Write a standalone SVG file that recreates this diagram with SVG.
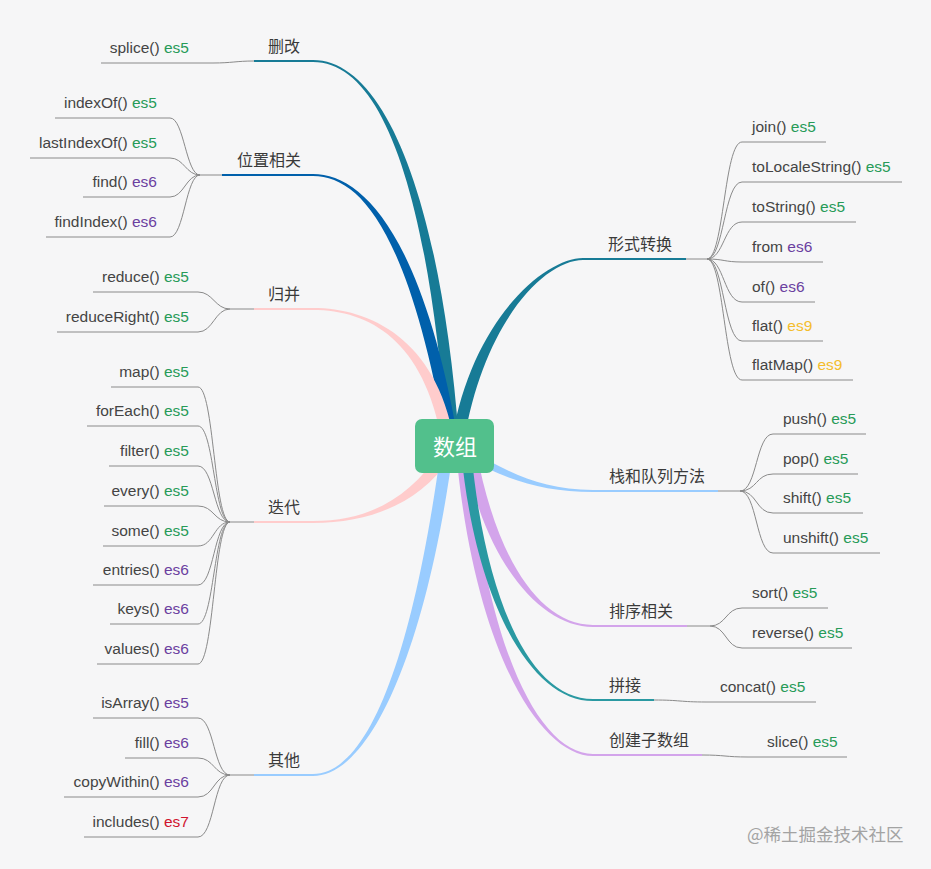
<svg xmlns="http://www.w3.org/2000/svg" width="931" height="869" viewBox="0 0 931 869">
<style>
.t{font-family:"Liberation Sans","Noto Sans CJK SC",sans-serif;font-size:15.5px;fill:#444}
.l{font-family:"Noto Sans CJK SC","Liberation Sans",sans-serif;font-size:16px;fill:#3a3a3a}
.e5{fill:#279b58}.e6{fill:#6b3fa0}.e7{fill:#d0132e}.e9{fill:#f4bd2c}
.u{stroke:#8a8a8a;stroke-width:1;fill:none}
.g{stroke:#8a8a8a;stroke-width:1;fill:none}
</style>
<rect x="0" y="0" width="931" height="869" fill="#f6f6f7"/>
<g id="connectors">
  <!-- main tapered branches -->
  <path d="M313,62 C385,62 429,200 447,440 L459,440 C441,200 385,60 313,60 Z" fill="#177b96"/>
  <line x1="254" y1="61" x2="314" y2="61" stroke="#177b96" stroke-width="2"/>
  <path d="M313,176 C360,176 409,231 446,441 L458,439 C421,229 360,174 313,174 Z" fill="#0060ab"/>
  <line x1="222" y1="175" x2="314" y2="175" stroke="#0060ab" stroke-width="2"/>
  <path d="M313,310 C370,310 424,341 442,441 L454,439 C436,339 370,308 313,308 Z" fill="#ffcccc"/>
  <line x1="254" y1="309" x2="314" y2="309" stroke="#ffcccc" stroke-width="2"/>
  <path d="M313,523 C370,523 420,503 450,458 L440,452 C410,497 370,521 313,521 Z" fill="#ffcccc"/>
  <line x1="254" y1="522" x2="314" y2="522" stroke="#ffcccc" stroke-width="2"/>
  <path d="M313,776 C370,776 426,651 453,451 L441,449 C414,649 370,774 313,774 Z" fill="#99ccff"/>
  <line x1="254" y1="775" x2="314" y2="775" stroke="#99ccff" stroke-width="2"/>
  <path d="M583,258 C545,258 472,319 452,439 L464,441 C484,321 545,260 583,260 Z" fill="#177b96"/>
  <line x1="582" y1="259" x2="686" y2="259" stroke="#177b96" stroke-width="2"/>
  <path d="M593,490 C540,490 507,471.5 467,448.5 L463,455.5 C503,478.5 540,492 593,492 Z" fill="#99ccff"/>
  <line x1="592" y1="491" x2="718" y2="491" stroke="#99ccff" stroke-width="2"/>
  <path d="M593,625 C540,625 496,559 476,449 L464,451 C484,561 540,627 593,627 Z" fill="#d3a4eb"/>
  <line x1="592" y1="626" x2="687" y2="626" stroke="#d3a4eb" stroke-width="2"/>
  <path d="M593,754 C540,754 486,650 468,449.5 L456,450.5 C474,650 540,756 593,756 Z" fill="#d3a4eb"/>
  <line x1="592" y1="755" x2="702" y2="755" stroke="#d3a4eb" stroke-width="2"/>
  <path d="M593,699 C530,699 485,600 471,449.5 L461,450.5 C475,600 530,701 593,701 Z" fill="#2a99a2"/>
  <line x1="592" y1="700" x2="654" y2="700" stroke="#2a99a2" stroke-width="2"/>

  <!-- 删改 -->
  <path class="g" d="M254,61 C236,61 232,63 213,63"/>
  <!-- 位置相关 -->
  <path class="g" d="M222,175 H200"/>
  <path class="g" d="M200,175 C186,175 184,118 170,118"/>
  <path class="g" d="M200,175 C186,175 184,158 170,158"/>
  <path class="g" d="M200,175 C186,175 184,197 170,197"/>
  <path class="g" d="M200,175 C186,175 184,237 170,237"/>
  <!-- 归并 -->
  <path class="g" d="M254,309 H230"/>
  <path class="g" d="M230,309 C215,309 213,292 198,292"/>
  <path class="g" d="M230,309 C215,309 213,332 198,332"/>
  <!-- 迭代 -->
  <path class="g" d="M254,522 H230"/>
  <path class="g" d="M230,522 C214,522 214,387 198,387"/>
  <path class="g" d="M230,522 C214,522 214,426 198,426"/>
  <path class="g" d="M230,522 C214,522 214,466 198,466"/>
  <path class="g" d="M230,522 C214,522 214,506 198,506"/>
  <path class="g" d="M230,522 C214,522 214,546 198,546"/>
  <path class="g" d="M230,522 C214,522 214,585 198,585"/>
  <path class="g" d="M230,522 C214,522 214,624 198,624"/>
  <path class="g" d="M230,522 C214,522 214,664 198,664"/>
  <!-- 其他 -->
  <path class="g" d="M254,775 H230"/>
  <path class="g" d="M230,775 C214,775 214,718 198,718"/>
  <path class="g" d="M230,775 C214,775 214,758 198,758"/>
  <path class="g" d="M230,775 C214,775 214,797 198,797"/>
  <path class="g" d="M230,775 C214,775 214,837 198,837"/>
  <!-- 形式转换 -->
  <path class="g" d="M686,259 H707"/>
  <path class="g" d="M707,259 C724,259 724,142 742,142"/>
  <path class="g" d="M707,259 C724,259 724,182 742,182"/>
  <path class="g" d="M707,259 C724,259 724,222 742,222"/>
  <path class="g" d="M707,259 C724,259 724,262 742,262"/>
  <path class="g" d="M707,259 C724,259 724,302 742,302"/>
  <path class="g" d="M707,259 C724,259 724,341 742,341"/>
  <path class="g" d="M707,259 C724,259 724,380 742,380"/>
  <!-- 栈和队列方法 -->
  <path class="g" d="M718,491 H740"/>
  <path class="g" d="M740,491 C757,491 756,434 773,434"/>
  <path class="g" d="M740,491 C757,491 756,474 773,474"/>
  <path class="g" d="M740,491 C757,491 756,513 773,513"/>
  <path class="g" d="M740,491 C757,491 756,553 773,553"/>
  <!-- 排序相关 -->
  <path class="g" d="M687,626 H710"/>
  <path class="g" d="M710,626 C726,626 726,608 742,608"/>
  <path class="g" d="M710,626 C726,626 726,648 742,648"/>
  <!-- 拼接 -->
  <path class="g" d="M654,700 C680,700 680,702 706,702"/>
  <!-- 创建子数组 -->
  <path class="g" d="M702,755 C725,755 725,757 748,757"/>
</g>

<g id="root">
  <rect x="415" y="419" width="79" height="54" rx="7" fill="#52c08c"/>
  <text x="455" y="455" text-anchor="middle" style="font-family:'Noto Sans CJK SC',sans-serif;font-size:22px;fill:#ffffff">数组</text>
</g>

<g id="b-shangai"><text class="l" x="268" y="52">删改</text></g>
<g id="n-splice"><line class="u" x1="101" y1="63" x2="213" y2="63"/><text class="t" x="189" y="53" text-anchor="end">splice() <tspan class="e5">es5</tspan></text></g>

<g id="b-weizhi"><text class="l" x="237" y="166">位置相关</text></g>
<g id="n-indexOf"><line class="u" x1="55" y1="118" x2="170" y2="118"/><text class="t" x="157" y="108" text-anchor="end">indexOf() <tspan class="e5">es5</tspan></text></g>
<g id="n-lastIndexOf"><line class="u" x1="30" y1="158" x2="170" y2="158"/><text class="t" x="157" y="148" text-anchor="end">lastIndexOf() <tspan class="e5">es5</tspan></text></g>
<g id="n-find"><line class="u" x1="83" y1="197" x2="170" y2="197"/><text class="t" x="157" y="187" text-anchor="end">find() <tspan class="e6">es6</tspan></text></g>
<g id="n-findIndex"><line class="u" x1="46" y1="237" x2="170" y2="237"/><text class="t" x="157" y="227" text-anchor="end">findIndex() <tspan class="e6">es6</tspan></text></g>

<g id="b-guibing"><text class="l" x="268" y="300">归并</text></g>
<g id="n-reduce"><line class="u" x1="93" y1="292" x2="198" y2="292"/><text class="t" x="189" y="282" text-anchor="end">reduce() <tspan class="e5">es5</tspan></text></g>
<g id="n-reduceRight"><line class="u" x1="57" y1="332" x2="198" y2="332"/><text class="t" x="189" y="322" text-anchor="end">reduceRight() <tspan class="e5">es5</tspan></text></g>

<g id="b-diedai"><text class="l" x="268" y="513">迭代</text></g>
<g id="n-map"><line class="u" x1="111" y1="387" x2="198" y2="387"/><text class="t" x="189" y="377" text-anchor="end">map() <tspan class="e5">es5</tspan></text></g>
<g id="n-forEach"><line class="u" x1="87" y1="426" x2="198" y2="426"/><text class="t" x="189" y="416" text-anchor="end">forEach() <tspan class="e5">es5</tspan></text></g>
<g id="n-filter"><line class="u" x1="109" y1="466" x2="198" y2="466"/><text class="t" x="189" y="456" text-anchor="end">filter() <tspan class="e5">es5</tspan></text></g>
<g id="n-every"><line class="u" x1="104" y1="506" x2="198" y2="506"/><text class="t" x="189" y="496" text-anchor="end">every() <tspan class="e5">es5</tspan></text></g>
<g id="n-some"><line class="u" x1="103" y1="546" x2="198" y2="546"/><text class="t" x="189" y="536" text-anchor="end">some() <tspan class="e5">es5</tspan></text></g>
<g id="n-entries"><line class="u" x1="93" y1="585" x2="198" y2="585"/><text class="t" x="189" y="575" text-anchor="end">entries() <tspan class="e6">es6</tspan></text></g>
<g id="n-keys"><line class="u" x1="110" y1="624" x2="198" y2="624"/><text class="t" x="189" y="614" text-anchor="end">keys() <tspan class="e6">es6</tspan></text></g>
<g id="n-values"><line class="u" x1="97" y1="664" x2="198" y2="664"/><text class="t" x="189" y="654" text-anchor="end">values() <tspan class="e6">es6</tspan></text></g>

<g id="b-qita"><text class="l" x="268" y="766">其他</text></g>
<g id="n-isArray"><line class="u" x1="93" y1="718" x2="198" y2="718"/><text class="t" x="189" y="708" text-anchor="end">isArray() <tspan class="e6">es5</tspan></text></g>
<g id="n-fill"><line class="u" x1="125" y1="758" x2="198" y2="758"/><text class="t" x="189" y="748" text-anchor="end">fill() <tspan class="e6">es6</tspan></text></g>
<g id="n-copyWithin"><line class="u" x1="64" y1="797" x2="198" y2="797"/><text class="t" x="189" y="787" text-anchor="end">copyWithin() <tspan class="e6">es6</tspan></text></g>
<g id="n-includes"><line class="u" x1="84" y1="837" x2="198" y2="837"/><text class="t" x="189" y="827" text-anchor="end">includes() <tspan class="e7">es7</tspan></text></g>

<g id="b-xingshi"><text class="l" x="608" y="250">形式转换</text></g>
<g id="n-join"><line class="u" x1="742" y1="142" x2="826" y2="142"/><text class="t" x="752" y="132">join() <tspan class="e5">es5</tspan></text></g>
<g id="n-toLocaleString"><line class="u" x1="742" y1="182" x2="902" y2="182"/><text class="t" x="752" y="172">toLocaleString() <tspan class="e5">es5</tspan></text></g>
<g id="n-toString"><line class="u" x1="742" y1="222" x2="856" y2="222"/><text class="t" x="752" y="212">toString() <tspan class="e5">es5</tspan></text></g>
<g id="n-from"><line class="u" x1="742" y1="262" x2="823" y2="262"/><text class="t" x="752" y="252">from <tspan class="e6">es6</tspan></text></g>
<g id="n-of"><line class="u" x1="742" y1="302" x2="815" y2="302"/><text class="t" x="752" y="292">of() <tspan class="e6">es6</tspan></text></g>
<g id="n-flat"><line class="u" x1="742" y1="341" x2="823" y2="341"/><text class="t" x="752" y="331">flat() <tspan class="e9">es9</tspan></text></g>
<g id="n-flatMap"><line class="u" x1="742" y1="380" x2="853" y2="380"/><text class="t" x="752" y="370">flatMap() <tspan class="e9">es9</tspan></text></g>

<g id="b-zhan"><text class="l" x="609" y="482">栈和队列方法</text></g>
<g id="n-push"><line class="u" x1="773" y1="434" x2="866" y2="434"/><text class="t" x="783" y="424">push() <tspan class="e5">es5</tspan></text></g>
<g id="n-pop"><line class="u" x1="773" y1="474" x2="858" y2="474"/><text class="t" x="783" y="464">pop() <tspan class="e5">es5</tspan></text></g>
<g id="n-shift"><line class="u" x1="773" y1="513" x2="863" y2="513"/><text class="t" x="783" y="503">shift() <tspan class="e5">es5</tspan></text></g>
<g id="n-unshift"><line class="u" x1="773" y1="553" x2="880" y2="553"/><text class="t" x="783" y="543">unshift() <tspan class="e5">es5</tspan></text></g>

<g id="b-paixu"><text class="l" x="609" y="617">排序相关</text></g>
<g id="n-sort"><line class="u" x1="742" y1="608" x2="828" y2="608"/><text class="t" x="752" y="598">sort() <tspan class="e5">es5</tspan></text></g>
<g id="n-reverse"><line class="u" x1="742" y1="648" x2="852" y2="648"/><text class="t" x="752" y="638">reverse() <tspan class="e5">es5</tspan></text></g>

<g id="b-pinjie"><text class="l" x="609" y="691">拼接</text></g>
<g id="n-concat"><line class="u" x1="706" y1="702" x2="816" y2="702"/><text class="t" x="720" y="692">concat() <tspan class="e5">es5</tspan></text></g>

<g id="b-chuangjian"><text class="l" x="609" y="746">创建子数组</text></g>
<g id="n-slice"><line class="u" x1="748" y1="757" x2="847" y2="757"/><text class="t" x="767" y="747">slice() <tspan class="e5">es5</tspan></text></g>

<text x="747" y="841" style="font-family:'Noto Sans CJK SC',sans-serif;font-size:17.5px;fill:#a3a3a3">@稀土掘金技术社区</text>
</svg>
